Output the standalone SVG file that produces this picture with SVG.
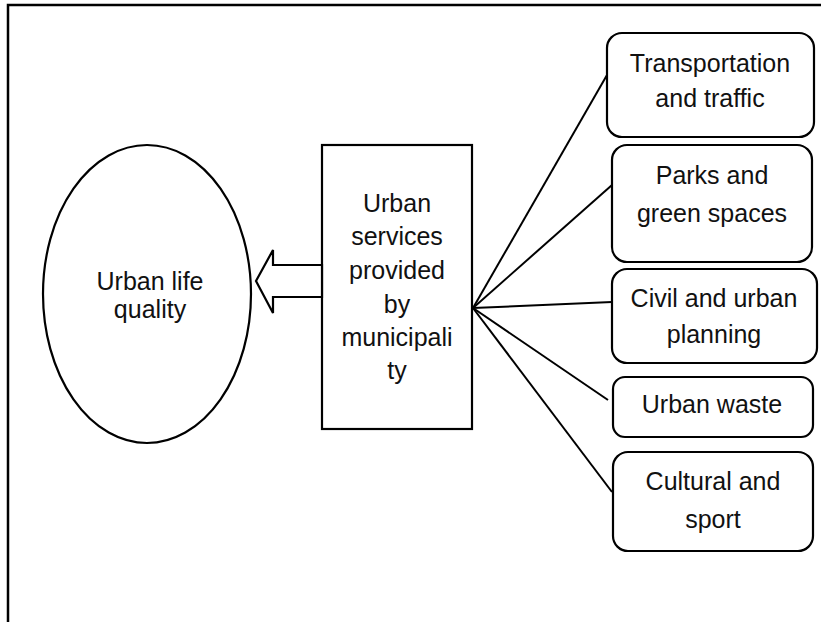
<svg xmlns="http://www.w3.org/2000/svg" width="821" height="622" viewBox="0 0 821 622">
<style>
text{font-family:"Liberation Sans",Arial,sans-serif;font-size:25px;fill:#111;text-anchor:middle}
.s{fill:#fff;stroke:#000;stroke-width:2.2}
.c{stroke:#000;stroke-width:2;fill:none}
</style>
<rect x="0" y="0" width="821" height="622" fill="#fff"/>
<rect x="8" y="5" width="900" height="700" fill="none" stroke="#000" stroke-width="2.5"/>
<g id="quality">
<ellipse class="s" cx="147" cy="294" rx="104" ry="149"/>
<text x="150" y="290">Urban life</text>
<text x="150" y="318">quality</text>
</g>
<g id="services">
<rect class="s" x="322" y="145" width="150" height="284"/>
<text x="397" y="212">Urban</text>
<text x="397" y="245">services</text>
<text x="397" y="279">provided</text>
<text x="397" y="313">by</text>
<text x="397" y="346">municipali</text>
<text x="397" y="379">ty</text>
</g>
<g id="transport">
<rect class="s" x="607" y="33" width="207" height="104" rx="15"/>
<text x="710" y="72">Transportation</text>
<text x="710" y="107">and traffic</text>
</g>
<g id="parks">
<rect class="s" x="612" y="145" width="200" height="117" rx="15"/>
<text x="712" y="184">Parks and</text>
<text x="712" y="222">green spaces</text>
</g>
<g id="civil">
<rect class="s" x="612" y="269" width="205" height="94" rx="15"/>
<text x="714" y="307">Civil and urban</text>
<text x="714" y="343">planning</text>
</g>
<g id="waste">
<rect class="s" x="613" y="377" width="200" height="60" rx="12"/>
<text x="712" y="413">Urban waste</text>
</g>
<g id="cultural">
<rect class="s" x="613" y="452" width="200" height="99" rx="15"/>
<text x="713" y="490">Cultural and</text>
<text x="713" y="528">sport</text>
</g>
<g id="connectors">
<polygon class="s" points="322,265 273,265 273,250 256,281 273,313 273,297 322,297"/>
<line class="c" x1="473" y1="308" x2="607" y2="75"/>
<line class="c" x1="473" y1="308" x2="612" y2="185"/>
<line class="c" x1="473" y1="308" x2="612" y2="302"/>
<line class="c" x1="473" y1="308" x2="608" y2="400"/>
<line class="c" x1="473" y1="308" x2="612" y2="492"/>
</g>
</svg>
